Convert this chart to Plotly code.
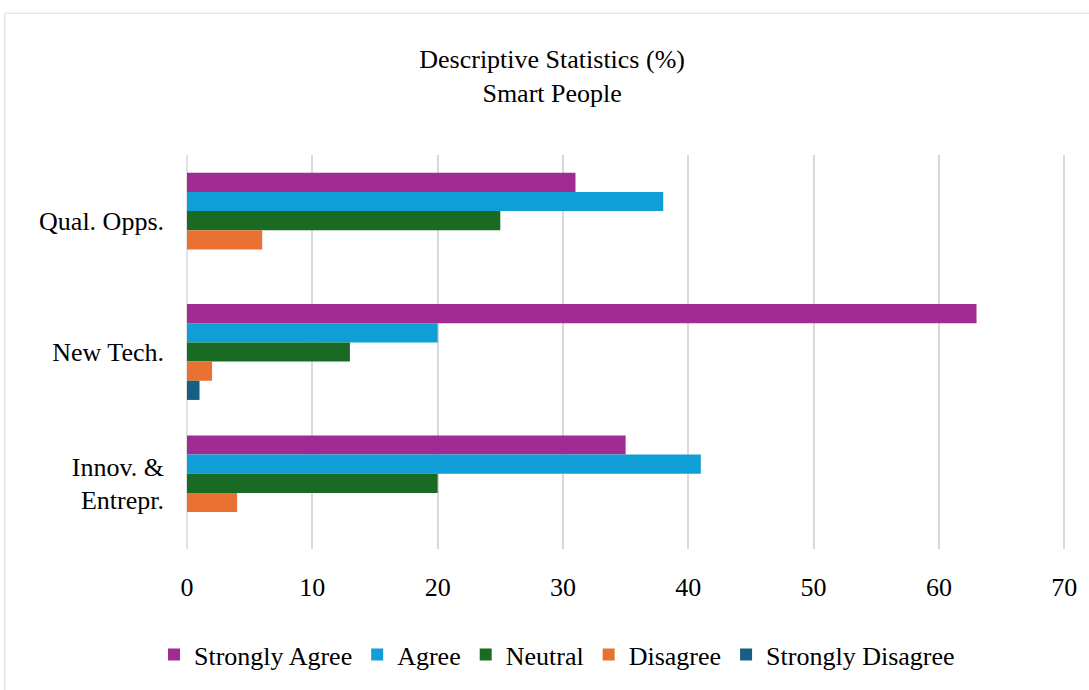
import plotly.graph_objects as go

# Survey categories (top to bottom) and response shares in percent
categories = ["Qual. Opps.", "New Tech.", "Innov. &<br>Entrepr."]
series_names = ["Strongly Agree", "Agree", "Neutral", "Disagree", "Strongly Disagree"]
strongly_agree = [31, 63, 35]
agree = [38, 20, 41]
neutral = [25, 13, 20]
disagree = [6, 2, 4]
strongly_disagree = [0, 1, 0]
colors = ["#A02B93", "#0F9ED5", "#196B24", "#E97132", "#156082"]

x_ticks = [0, 10, 20, 30, 40, 50, 60, 70]

FONT = "Liberation Serif, Times New Roman, serif"
FS = 26

fig = go.Figure()
for name, vals, col in zip(series_names,
                           [strongly_agree, agree, neutral, disagree, strongly_disagree],
                           colors):
    fig.add_trace(go.Bar(
        y=categories, x=vals, name=name, orientation="h",
        marker=dict(color=col, line=dict(width=0)),
    ))

L, R, T, B = 187, 17, 155, 135
PW, PH = 1089 - L - R, 690 - T - B

fig.update_layout(
    width=1089, height=690,
    barmode="group", bargap=0.27, bargroupgap=0,
    paper_bgcolor="white", plot_bgcolor="white",
    font=dict(family=FONT, size=FS, color="black"),
    margin=dict(l=L, r=R, t=T, b=B),
    title=dict(
        text="Descriptive Statistics (%)<br>Smart People",
        font=dict(family=FONT, size=FS, color="black"),
        x=0.507, xanchor="center", xref="container",
        y=1 - 68 / 690, yanchor="middle", yref="container",
    ),
    legend=dict(
        orientation="h", x=0.42, xanchor="center", y=-0.268, yanchor="middle",
        font=dict(family=FONT, size=FS, color="black"),
        traceorder="normal", itemwidth=30,
    ),
    xaxis=dict(
        range=[0, 70.3], tickvals=x_ticks, showgrid=True, gridcolor="#d9d9d9",
        gridwidth=1.5, zeroline=False, showline=False, ticks="",
        ticklabelstandoff=20,
    ),
    yaxis=dict(
        autorange="reversed", showgrid=False, zeroline=False, showline=False,
        ticks="", ticklabelstandoff=22,
    ),
    shapes=[
        dict(type="line", xref="paper", yref="paper", x0=0, x1=0, y0=0, y1=1,
             line=dict(color="#d9d9d9", width=1.5), layer="below"),
        dict(type="rect", xref="paper", yref="paper",
             x0=(4 - L) / PW, x1=(1100 - L) / PW,
             y0=(555 - 700) / PH, y1=(555 - 11) / PH,
             line=dict(color="#d9d9d9", width=1), fillcolor="rgba(0,0,0,0)"),
    ],
)

fig.write_html("out.html")
